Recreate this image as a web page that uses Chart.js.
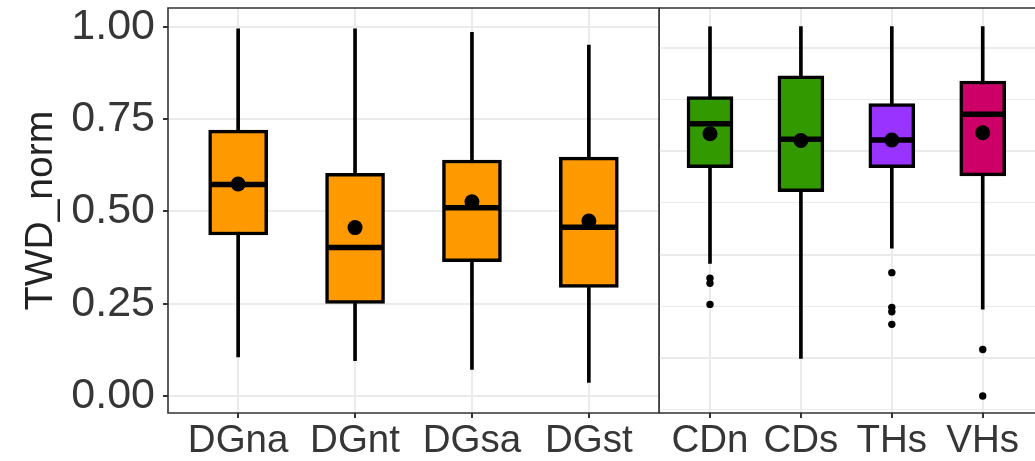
<!DOCTYPE html>
<html>
<head>
<meta charset="utf-8">
<title>TWD_norm</title>
<script src="https://cdn.jsdelivr.net/npm/chart.js@4.4.1/dist/chart.umd.min.js"></script>
<style>
  html, body { margin: 0; padding: 0; background: #ffffff; }
  #wrap { position: relative; width: 1035px; height: 461px; overflow: hidden; background: #ffffff; }
  #cLeft { position: absolute; left: 0; top: 0; }
  #cRight { position: absolute; left: 659px; top: 0; }
</style>
</head>
<body>
<div id="wrap">
  <canvas id="cLeft" width="660" height="461" style="width:660px;height:461px"></canvas>
  <canvas id="cRight" width="376" height="461" style="width:376px;height:461px"></canvas>
</div>
<script>
// ---- data: left panel (DG groups) ----
const leftCategories = ['DGna', 'DGnt', 'DGsa', 'DGst'];
const leftLow    = [0.106, 0.096, 0.072, 0.037];
const leftQ1     = [0.436, 0.251, 0.364, 0.294];
const leftMedian = [0.573, 0.402, 0.510, 0.457];
const leftQ3     = [0.720, 0.603, 0.639, 0.647];
const leftHigh   = [0.994, 0.994, 0.985, 0.950];
const leftMean   = [0.574, 0.456, 0.526, 0.474];
const leftOutliers = [];
const leftColors = ['#FF9900', '#FF9900', '#FF9900', '#FF9900'];

// ---- data: right panel ----
const rightCategories = ['CDn', 'CDs', 'THs', 'VHs'];
const rightLow    = [0.359, 0.102, 0.400, 0.235];
const rightQ1     = [0.618, 0.553, 0.618, 0.596];
const rightMedian = [0.737, 0.695, 0.693, 0.763];
const rightQ3     = [0.811, 0.867, 0.792, 0.853];
const rightHigh   = [1.000, 1.000, 1.000, 1.000];
const rightMean   = [0.710, 0.692, 0.693, 0.713];
const rightOutlierGroup = [0, 0, 0, 2, 2, 2, 2, 3, 3];
const rightOutlierValue = [0.319, 0.305, 0.248, 0.334, 0.240, 0.228, 0.194, 0.126, 0.000];
const rightColors = ['#339900', '#339900', '#9933FF', '#CC0066'];

// ---- axis ticks ----
const yTickValues = [0, 0.25, 0.5, 0.75, 1];
const yTickLabels = ['0.00', '0.25', '0.50', '0.75', '1.00'];
const yMinorValues = [0.125, 0.375, 0.625, 0.875];
const yRange = [-0.046, 1.0506];
// right panel keeps its own background guide lines
const rightGuideMajor = [0.25, 0.5, 0.75, 1.0];
const rightGuideMinor = [0.125, 0.375, 0.625, 0.875];
const rightGuideRange = [0.1169, 1.0968];

const FONT = "'Liberation Sans', Arial, Helvetica, sans-serif";
const GRID = '#EBEBEB';
const INK = '#333333';
const TEXT = '#363636';

const near = (a, b) => Math.abs(a - b) < 1e-6;
const inList = (list, v) => list.some(t => near(t, v));

// panel border drawn around the plotting area
const panelFrame = {
  id: 'panelFrame',
  afterDatasetsDraw(chart, args, opts) {
    const { ctx, chartArea: a } = chart;
    ctx.save();
    ctx.strokeStyle = INK;
    ctx.lineWidth = 1.6;
    ctx.beginPath();
    if (opts.openRight) {
      const r = chart.width + 5;
      ctx.moveTo(r, a.top); ctx.lineTo(a.left, a.top);
      ctx.lineTo(a.left, a.bottom); ctx.lineTo(r, a.bottom);
    } else {
      ctx.rect(a.left, a.top, a.right - a.left, a.bottom - a.top);
    }
    ctx.stroke();
    ctx.restore();
  }
};

function boxDatasets(s) {
  const idx = s.categories.map((c, i) => i);
  return [
    { type: 'bar', label: 'whisker', yAxisID: 'y', order: 5, grouped: false,
      data: idx.map(i => ({ x: i, y: [s.low[i], s.high[i]] })),
      backgroundColor: '#000000', borderWidth: 0, barThickness: 3 },
    { type: 'bar', label: 'box', yAxisID: 'y', order: 4, grouped: false,
      data: idx.map(i => ({ x: i, y: [s.q1[i], s.q3[i]] })),
      backgroundColor: s.colors, borderColor: '#000000', borderWidth: 3.5,
      borderSkipped: false, barThickness: s.boxWidth },
    { type: 'line', label: 'median', yAxisID: 'y', order: 3, showLine: false,
      data: idx.map(i => ({ x: i, y: s.median[i] })),
      pointStyle: 'line', pointRadius: s.boxWidth / 2 - 1.5,
      pointBorderColor: '#000000', pointBorderWidth: 5.5 },
    { type: 'line', label: 'mean', yAxisID: 'y', order: 2, showLine: false,
      data: idx.map(i => ({ x: i, y: s.mean[i] })),
      pointStyle: 'circle', pointRadius: 7.5,
      pointBackgroundColor: '#000000', pointBorderWidth: 0 },
    { type: 'line', label: 'outlier', yAxisID: 'y', order: 1, showLine: false,
      data: s.outliers,
      pointStyle: 'circle', pointRadius: 3.7,
      pointBackgroundColor: '#000000', pointBorderWidth: 0 }
  ];
}

function xScale(categories, min, max) {
  return {
    type: 'linear', min: min, max: max, bounds: 'data', offset: false,
    afterBuildTicks: sc => { sc.ticks = categories.map((c, i) => ({ value: i })); },
    afterFit: sc => { sc.height = 48; sc.paddingLeft = 0; sc.paddingRight = 0; },
    grid: { offset: false, color: GRID, lineWidth: 2, drawTicks: true,
            tickLength: 5, tickWidth: 2, tickColor: INK },
    border: { display: false },
    ticks: { autoSkip: false, maxRotation: 0, minRotation: 0, padding: 0,
             color: TEXT, font: { family: FONT, size: 38.5 },
             callback: v => categories[Math.round(v)] }
  };
}

function baseOptions(scales, openRight, padRight) {
  return {
    responsive: false, animation: false, events: [],
    layout: { autoPadding: false, padding: { top: 8, left: 0, right: padRight, bottom: 0 } },
    plugins: { legend: { display: false }, tooltip: { enabled: false }, panelFrame: { openRight: openRight } },
    scales: scales
  };
}

// ---- left panel ----
const yAll = yTickValues.concat(yMinorValues).sort((a, b) => a - b);
new Chart(document.getElementById('cLeft'), {
  type: 'bar',
  data: { datasets: boxDatasets({
    categories: leftCategories, low: leftLow, q1: leftQ1, median: leftMedian,
    q3: leftQ3, high: leftHigh, mean: leftMean, colors: leftColors, boxWidth: 59,
    outliers: leftOutliers }) },
  options: baseOptions({
    x: xScale(leftCategories, -0.6, 3.6),
    y: {
      type: 'linear', min: yRange[0], max: yRange[1], bounds: 'data',
      afterBuildTicks: sc => { sc.ticks = yAll.map(v => ({ value: v })); },
      afterFit: sc => { sc.width = 168; sc.paddingTop = 0; sc.paddingBottom = 0; },
      grid: { color: GRID,
              lineWidth: c => inList(yTickValues, c.tick.value) ? 2 : 1,
              tickLength: 5, tickWidth: 2,
              tickColor: c => inList(yTickValues, c.tick.value) ? INK : 'rgba(0,0,0,0)' },
      border: { display: false },
      ticks: { padding: 8, color: TEXT, font: { family: FONT, size: 43 },
               callback: v => { const k = yTickValues.findIndex(t => near(t, v)); return k >= 0 ? yTickLabels[k] : ''; } },
      title: { display: true, text: 'TWD_norm', color: '#222222',
               font: { family: FONT, size: 39 }, padding: { top: 18, bottom: 0 } }
    }
  }, false, 1),
  plugins: [panelFrame]
});

// ---- right panel ----
const guideAll = rightGuideMajor.concat(rightGuideMinor).sort((a, b) => a - b);
new Chart(document.getElementById('cRight'), {
  type: 'bar',
  data: { datasets: boxDatasets({
    categories: rightCategories, low: rightLow, q1: rightQ1, median: rightMedian,
    q3: rightQ3, high: rightHigh, mean: rightMean, colors: rightColors, boxWidth: 46,
    outliers: rightOutlierValue.map((v, i) => ({ x: rightOutlierGroup[i], y: v })) }) },
  options: baseOptions({
    x: xScale(rightCategories, -0.561, 3.575),
    y: { type: 'linear', display: false, min: yRange[0], max: yRange[1], bounds: 'data' },
    yg: {
      type: 'linear', position: 'left', min: rightGuideRange[0], max: rightGuideRange[1], bounds: 'data',
      afterBuildTicks: sc => { sc.ticks = guideAll.map(v => ({ value: v })); },
      afterFit: sc => { sc.width = 0; sc.paddingTop = 0; sc.paddingBottom = 0; },
      grid: { color: GRID, drawTicks: false,
              lineWidth: c => inList(rightGuideMajor, c.tick.value) ? 2 : 1 },
      border: { display: false },
      ticks: { display: false }
    }
  }, true, 0),
  plugins: [panelFrame]
});
</script>
</body>
</html>
